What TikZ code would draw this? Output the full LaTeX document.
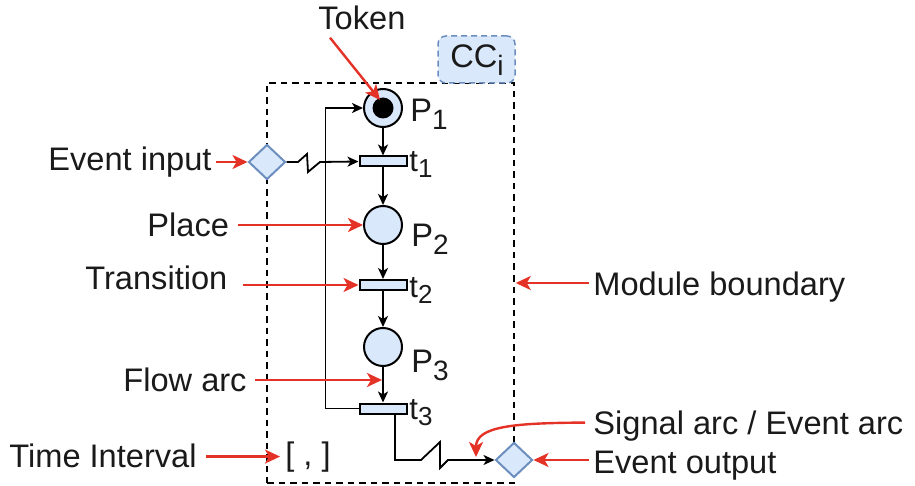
\documentclass[tikz,border=0pt]{standalone}
\usepackage{fontspec}
\setmainfont{Liberation Sans}
\usetikzlibrary{shapes.geometric,arrows.meta,calc}
\definecolor{bfill}{HTML}{DAE8FC}
\definecolor{bdraw}{HTML}{6C8EBF}
\definecolor{ared}{RGB}{228,50,38}
\definecolor{txt}{HTML}{1A1A1A}
\newcommand{\Lfont}{\fontsize{16.3}{19}\selectfont}
\newcommand{\Sfont}{\fontsize{14}{16}\selectfont}
\newcommand{\Tfont}{\fontsize{15.5}{18}\selectfont}
\newcommand{\Tsfont}{\fontsize{13}{15}\selectfont}
\newcommand{\Psub}[1]{P\raisebox{-4pt}{\Sfont #1}}
\newcommand{\Tsub}[1]{t\raisebox{-3pt}{\Tsfont #1}}
\tikzset{
  lbl/.style={inner sep=0pt, text=txt, font=\Lfont},
  place/.style={circle, draw=black, fill=bfill, line width=1pt, minimum size=19pt, inner sep=0pt},
  tokendot/.style={circle, fill=black, minimum size=10.5pt, inner sep=0pt},
  transbar/.style={rectangle, draw=black, fill=bfill, line width=1pt, minimum width=23.5pt, minimum height=5pt, inner sep=0pt},
  evt/.style={diamond, draw=bdraw, fill=bfill, line width=1pt, minimum width=18.5pt, minimum height=17.5pt, inner sep=0pt},
  flow/.style={draw=black, line width=0.9pt, -{Stealth[length=5.5pt,width=5pt,inset=1.5pt]}},
  ra/.style={draw=ared, line width=1.2pt, -{Stealth[length=7.5pt,width=7pt,inset=2pt]}},
  boundary/.style={draw=black, line width=0.75pt, dash pattern=on 3.25pt off 2.5pt},
}
\begin{document}
\begin{tikzpicture}[x=0.5pt,y=-0.5pt]
\useasboundingbox (0,0) rectangle (915,486);
% module boundary and CC box
\node[boundary, rectangle, minimum width=123.5pt, minimum height=200pt, inner sep=0pt] (mod) at (390.5,283) {};
\node[rectangle, rounded corners=4pt, draw=bdraw, fill=bfill, line width=0.75pt, dash pattern=on 3pt off 2pt, minimum width=38.5pt, minimum height=23.5pt, inner sep=0pt] (cc) at (476.5,59.5) {};
\node[lbl, anchor=base west] (cclbl) at (450,68) {CC\raisebox{-4pt}{\Sfont i}};
% places and transitions
\node[place] (p1) at (383,108) {};
\node[tokendot] (tok) at (p1) {};
\node[transbar] (t1) at (383,161.5) {};
\node[place] (p2) at (383,225) {};
\node[transbar] (t2) at (383,285) {};
\node[place] (p3) at (383,347) {};
\node[transbar] (t3) at (383,408.5) {};
\node[evt] (ei) at (267,162) {};
\node[evt] (eo) at (514,460) {};
% labels of net elements
\node[lbl, anchor=base west] (lp1) at (410,122) {\Psub{1}};
\node[lbl, anchor=base west] (lp2) at (411,247) {\Psub{2}};
\node[lbl, anchor=base west] (lp3) at (411,372) {\Psub{3}};
\node[lbl, anchor=base west, font=\Tfont] (lt1) at (409,172) {\Tsub{1}};
\node[lbl, anchor=base west, font=\Tfont] (lt2) at (409,297) {\Tsub{2}};
\node[lbl, anchor=base west, font=\Tfont] (lt3) at (409,419) {\Tsub{3}};
\node[lbl, anchor=base west] (ti) at (285,465) {[ , ]};
% flow arcs
\draw[flow] (p1) -- (t1);
\draw[flow] (t1) -- (p2);
\draw[flow] (p2) -- (t2);
\draw[flow] (t2) -- (p3);
\draw[flow] (p3) -- (t3);
\draw[flow] (t3.west) -- ++(-33,0) |- (p1.west);
\draw[flow] (ei.east) -- (298,162) -- (307,154) -- (308,172) -- (320,162) -- (t1.west);
\draw[flow] ([xshift=6pt]t3.south) |- (421,460) -- (440,442) -- (440,468) -- (448,460) -- (eo.west);
% annotation labels
\node[lbl, anchor=base west] (lTok) at (318,30) {Token};
\node[lbl, anchor=base west] (lEvIn) at (48,171) {Event input};
\node[lbl, anchor=base west] (lPlace) at (147,237) {Place};
\node[lbl, anchor=base west] (lTrans) at (85,290) {Transition};
\node[lbl, anchor=base west] (lFlow) at (123,391) {Flow arc};
\node[lbl, anchor=base west] (lTime) at (9,467) {Time Interval};
\node[lbl, anchor=base west] (lMod) at (593,295) {Module boundary};
\node[lbl, anchor=base west] (lSig) at (593,434) {Signal arc / Event arc};
\node[lbl, anchor=base west] (lEvOut) at (593,473) {Event output};
% red annotation arrows
\coordinate (faPt) at (383,380);
\draw[ra] ($(lTok.south west)+(12,7)$) -- ($(tok)+(-3,-8)$);
\draw[ra] ($(lEvIn.east |- ei.west)+(4,0)$) -- (ei.west);
\draw[ra] ($(lPlace.east |- p2.west)+(9,0)$) -- (p2.west);
\draw[ra] ($(lTrans.east |- t2.west)+(15,0)$) -- (t2.west);
\draw[ra] ($(lFlow.east |- faPt)+(8,0)$) -- ($(faPt)+(-1,0)$);
\draw[ra, shorten >=2.5pt] ($(lTime.east |- ti.west)+(9,0)$) -- (ti.west);
\draw[ra] ($(lMod.west |- mod.east)+(-4,0)$) -- ($(mod.east)+(1,0)$);
\draw[ra] ($(lEvOut.west |- eo.east)+(-4,0)$) -- (eo.east);
\draw[ra] ($(lSig.west)+(-8,-3)$) .. controls (515,423) and (476,426) .. (476,457);
\end{tikzpicture}
\end{document}
